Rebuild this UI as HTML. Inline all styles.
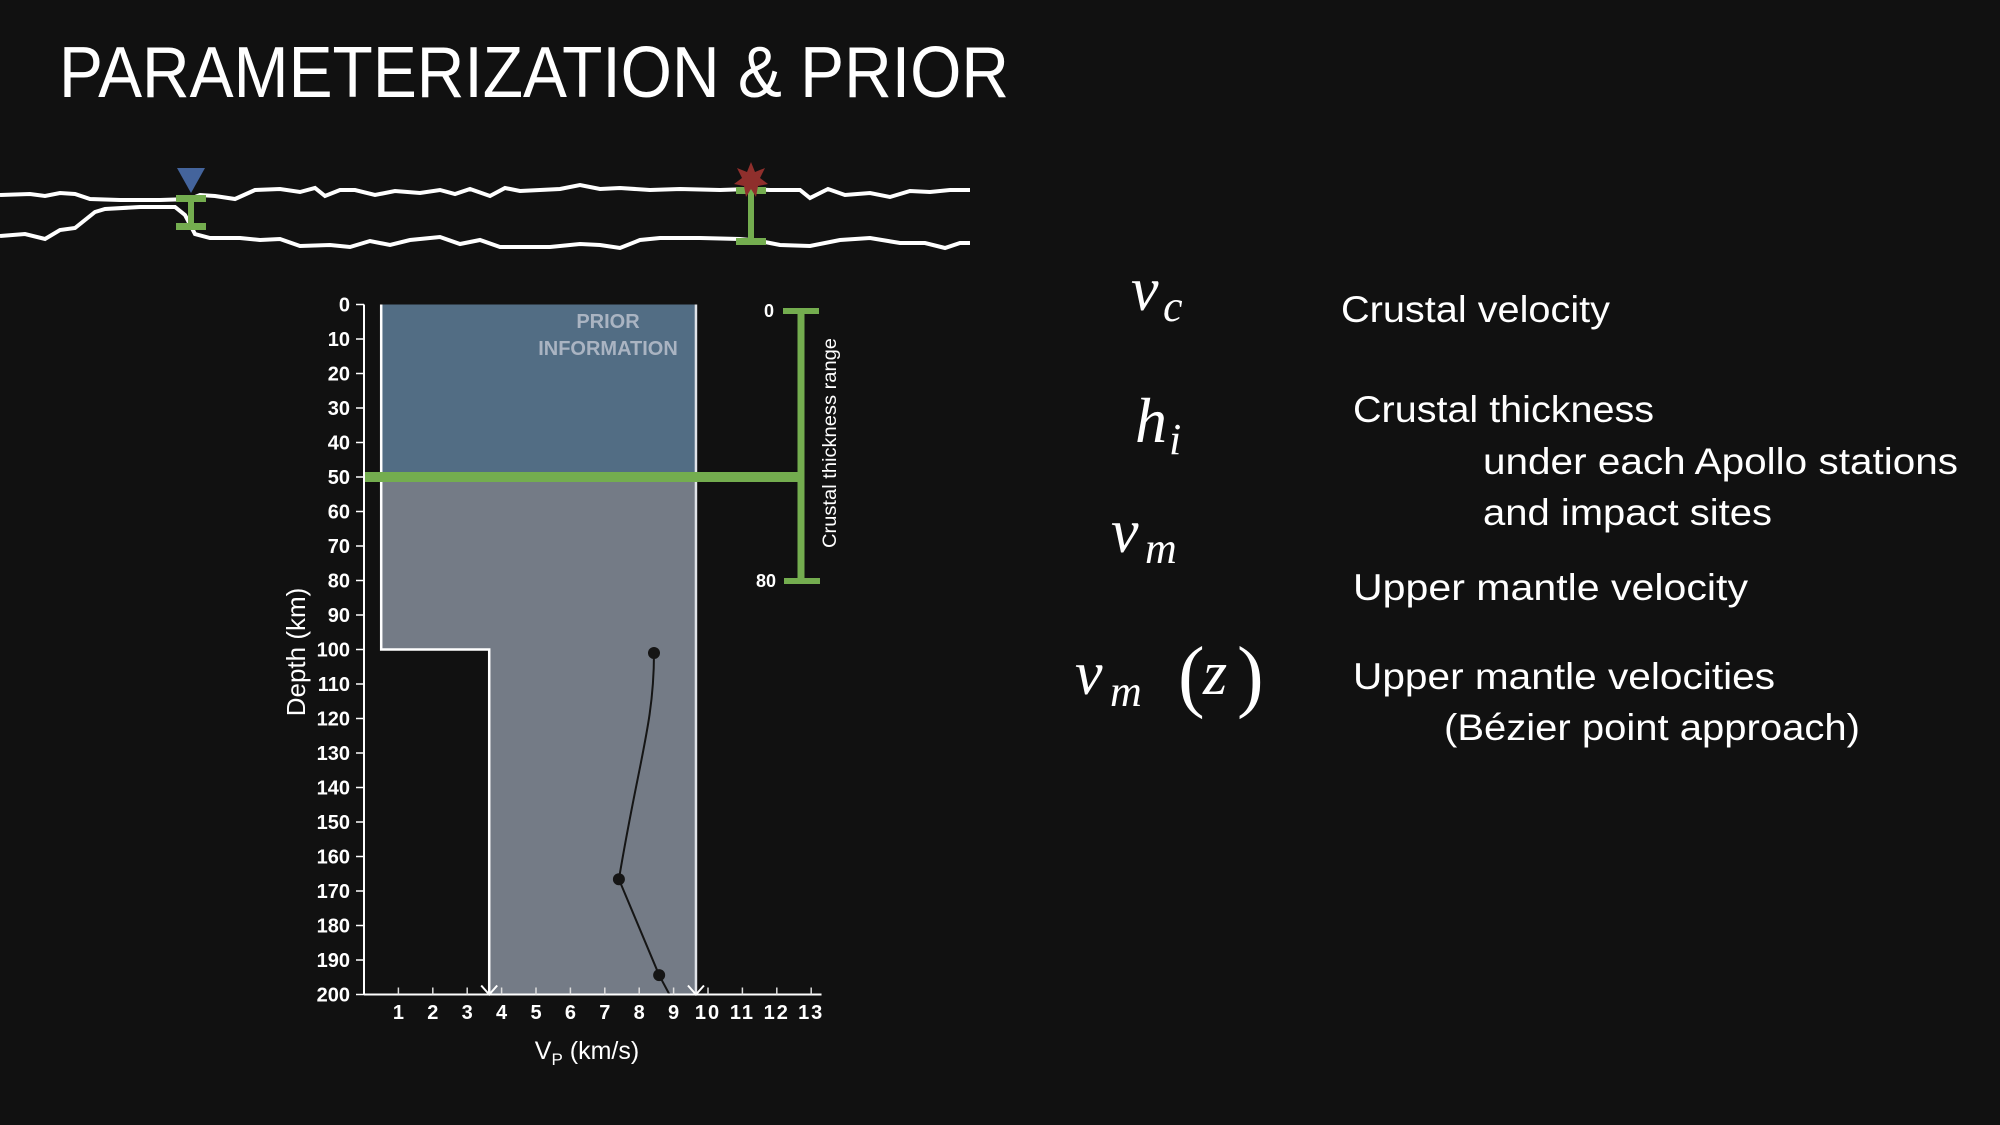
<!DOCTYPE html>
<html><head><meta charset="utf-8"><style>
html,body{margin:0;padding:0;background:#111111;}
svg{display:block;}
</style></head><body>
<svg id="s" width="2000" height="1125" viewBox="0 0 2000 1125" xmlns="http://www.w3.org/2000/svg">
<rect width="2000" height="1125" fill="#111111"/>
<text x="59" y="97" font-family="Liberation Sans, sans-serif" font-size="72" fill="#fff" textLength="950" lengthAdjust="spacingAndGlyphs">PARAMETERIZATION &amp; PRIOR</text>

<g>
<polyline fill="none" stroke="#fff" stroke-width="4" points="0,195 30,194 45,196 60,193 75,194 90,199 120,200 160,200 190,199 200,195 215,196 235,199 255,190 280,189 300,192 315,188 325,196 340,190 355,190 375,195 395,191 420,193 440,190 455,194 470,189 490,196 505,188 520,191 540,190 560,189 580,185 600,189 620,188 650,190 680,189 720,190 750,189 770,190 800,190 810,198 828,189 845,195 870,193 890,197 910,191 930,192 950,190 970,190"/>
<polyline fill="none" stroke="#fff" stroke-width="4" points="0,236 25,234 45,239 60,230 75,228 95,212 105,209 140,207 175,207 185,215 195,234 210,238 240,238 260,240 280,239 300,246 330,245 350,247 370,241 390,245 410,240 440,237 460,244 480,240 500,247 550,247 580,244 600,245 620,248 640,240 660,238 700,238 740,239 760,241 780,245 810,246 840,240 870,238 900,243 925,243 945,248 960,243 970,243"/>
<polygon points="177,168 205,168 191,193" fill="#44649c"/>
<g fill="#74ad4f">
<rect x="176" y="195" width="30" height="7"/><rect x="188" y="198" width="6" height="28"/><rect x="176" y="223" width="30" height="7"/>
</g>
<g fill="#74ad4f">
<rect x="736" y="187" width="30" height="7"/><rect x="748" y="190" width="6" height="51"/><rect x="736" y="238" width="30" height="7"/>
</g>
<polygon fill="#8f2f2c" points="751,162 755,172 765,168 760,178 768,184 758,186 756,197 751,189 746,197 744,186 734,184 742,178 737,168 747,172"/>
</g>

<g id="chart"></g>

<g fill="#fff">
<g font-family="Liberation Serif, serif" font-style="italic">
<text x="1131" y="310" font-size="62">v</text>
<text x="1163" y="321" font-size="44">c</text>
<text x="1135" y="442" font-size="64">h</text>
<text x="1169" y="454" font-size="44">i</text>
<text x="1111" y="552" font-size="62">v</text>
<text x="1145" y="563" font-size="44">m</text>
<text x="1075" y="694" font-size="62">v</text>
<text x="1110" y="706" font-size="44">m</text>
<text x="1178" y="702" font-size="80" font-style="normal">(</text>
<text x="1203" y="694" font-size="62">z</text>
<text x="1237" y="702" font-size="80" font-style="normal">)</text>
</g>
<g font-family="Liberation Sans, sans-serif" font-size="37">
<text x="1341" y="322" textLength="269" lengthAdjust="spacingAndGlyphs">Crustal velocity</text>
<text x="1353" y="422" textLength="301" lengthAdjust="spacingAndGlyphs">Crustal thickness</text>
<text x="1483" y="474" textLength="475" lengthAdjust="spacingAndGlyphs">under each Apollo stations</text>
<text x="1483" y="525" textLength="289" lengthAdjust="spacingAndGlyphs">and impact sites</text>
<text x="1353" y="600" textLength="395" lengthAdjust="spacingAndGlyphs">Upper mantle velocity</text>
<text x="1353" y="689" textLength="422" lengthAdjust="spacingAndGlyphs">Upper mantle velocities</text>
<text x="1444" y="740" textLength="416" lengthAdjust="spacingAndGlyphs">(Bézier point approach)</text>
</g>
</g>
</svg>
<script>
const depthTicks = [0,10,20,30,40,50,60,70,80,90,100,110,120,130,140,150,160,170,180,190,200];
const vpTicks = [1,2,3,4,5,6,7,8,9,10,11,12,13];
const priorVpMin = [0.5, 3.64];
const priorVpMax = 9.65;
const priorDepthBreak = 100;
const crustDepthMax = 50;
const crustThicknessRange = [0, 80];
const bezierVp = [8.43, 7.41, 8.58];
const bezierDepth = [101, 166.6, 194.4];
const curveEnd = [8.88, 200];

const NS = 'http://www.w3.org/2000/svg';
const g = document.getElementById('chart');
const X = v => 364 + 34.4 * v;
const Y = d => 304.5 + 3.45 * d;
function el(tag, attrs, text) {
  const e = document.createElementNS(NS, tag);
  for (const k in attrs) e.setAttribute(k, attrs[k]);
  if (text !== undefined) e.textContent = text;
  g.appendChild(e);
  return e;
}
let e;
e = el('rect', {x: X(priorVpMin[0]), y: Y(0), width: X(priorVpMax) - X(priorVpMin[0]), height: Y(crustDepthMax) - Y(0), fill: '#526d84'});


e = el('rect', {x: X(priorVpMin[0]), y: Y(crustDepthMax), width: X(priorVpMax) - X(priorVpMin[0]), height: Y(priorDepthBreak) - Y(crustDepthMax), fill: '#747b86'});


e = el('rect', {x: X(priorVpMin[1]), y: Y(priorDepthBreak), width: X(priorVpMax) - X(priorVpMin[1]), height: Y(200) - Y(priorDepthBreak), fill: '#747b86'});


e = el('polyline', {points: `${X(priorVpMin[0])},${Y(0)} ${X(priorVpMin[0])},${Y(priorDepthBreak)} ${X(priorVpMin[1])},${Y(priorDepthBreak)} ${X(priorVpMin[1])},${Y(200)}`, fill: 'none', stroke: '#fff', 'stroke-width': 2.5});


e = el('line', {x1: X(priorVpMax), y1: Y(0), x2: X(priorVpMax), y2: Y(200), stroke: '#e0e3e8', 'stroke-width': 2.5});


[X(priorVpMin[1]), X(priorVpMax)].forEach(x => {
  e = el('polyline', {points: `${x-8},${Y(200)-9} ${x},${Y(200)} ${x+8},${Y(200)-9}`, fill: 'none', stroke: '#fff', 'stroke-width': 2});
  
  
});
e = el('text', {x: 608, y: 328, 'text-anchor': 'middle', 'font-family': 'Liberation Sans, sans-serif', 'font-weight': 'bold', 'font-size': 20, fill: '#aab4c2'}, 'PRIOR');


e = el('text', {x: 608, y: 355, 'text-anchor': 'middle', 'font-family': 'Liberation Sans, sans-serif', 'font-weight': 'bold', 'font-size': 20, fill: '#aab4c2'}, 'INFORMATION');


const pts = bezierVp.map((v, i) => [X(v), Y(bezierDepth[i])]);
const endP = [X(curveEnd[0]), Y(curveEnd[1])];
const d = `M${pts[0][0]},${pts[0][1]} C${pts[0][0]},${pts[0][1]+70} ${pts[1][0]+20},${pts[1][1]-120} ${pts[1][0]},${pts[1][1]} L${pts[2][0]},${pts[2][1]} L${endP[0]},${endP[1]}`;
e = el('path', {d: d, fill: 'none', stroke: '#151515', 'stroke-width': 2});


pts.forEach(p => {
  e = el('circle', {cx: p[0], cy: p[1], r: 6, fill: '#151515'});
  
  
});
e = el('rect', {x: X(0), y: Y(crustDepthMax) - 5, width: 801 - X(0), height: 10, fill: '#74ad4f'});


e = el('rect', {x: 797.5, y: 311, width: 7, height: 270, fill: '#74ad4f'});


e = el('rect', {x: 783, y: 308, width: 36, height: 6, fill: '#74ad4f'});


e = el('rect', {x: 784, y: 578, width: 36, height: 6, fill: '#74ad4f'});


e = el('text', {x: 774, y: 317, 'text-anchor': 'end', 'font-family': 'Liberation Sans, sans-serif', 'font-weight': 'bold', 'font-size': 18, fill: '#fff'}, String(crustThicknessRange[0]));


e = el('text', {x: 776, y: 587, 'text-anchor': 'end', 'font-family': 'Liberation Sans, sans-serif', 'font-weight': 'bold', 'font-size': 18, fill: '#fff'}, String(crustThicknessRange[1]));


e = el('text', {x: 0, y: 0, transform: 'translate(836,443) rotate(-90)', 'text-anchor': 'middle', 'font-family': 'Liberation Sans, sans-serif', 'font-size': 19, fill: '#fff', textLength: 210, lengthAdjust: 'spacingAndGlyphs'}, 'Crustal thickness range');


e = el('line', {x1: X(0), y1: Y(0), x2: X(0), y2: Y(200), stroke: '#fff', 'stroke-width': 2});


e = el('line', {x1: X(0), y1: Y(200), x2: X(13.3), y2: Y(200), stroke: '#fff', 'stroke-width': 2});


depthTicks.forEach(t => {
  e = el('line', {x1: X(0) - 8, y1: Y(t), x2: X(0), y2: Y(t), stroke: '#fff', 'stroke-width': 1.5});
  
  
  e = el('text', {x: 350, y: Y(t) + 7, 'text-anchor': 'end', 'font-family': 'Liberation Sans, sans-serif', 'font-weight': 'bold', 'font-size': 20, fill: '#fff'}, String(t));
  
  
});
vpTicks.forEach(t => {
  e = el('line', {x1: X(t), y1: Y(200), x2: X(t), y2: Y(200) - 7, stroke: '#ddd', 'stroke-width': 1.5});
  
  
  e = el('text', {x: X(t), y: 1019, 'text-anchor': 'middle', 'font-family': 'Liberation Sans, sans-serif', 'font-weight': 'bold', 'font-size': 20, fill: '#fff', 'letter-spacing': t >= 10 ? 2 : 0}, String(t));
  
  
});
e = el('text', {x: 0, y: 0, transform: 'translate(305,652) rotate(-90)', 'text-anchor': 'middle', 'font-family': 'Liberation Sans, sans-serif', 'font-size': 26, fill: '#fff'}, 'Depth (km)');


e = el('text', {x: 587, y: 1059, 'text-anchor': 'middle', 'font-family': 'Liberation Sans, sans-serif', 'font-size': 25, fill: '#fff'}, '');


const t1 = document.createElementNS(NS, 'tspan'); t1.textContent = 'V';
const t2 = document.createElementNS(NS, 'tspan'); t2.textContent = 'P'; t2.setAttribute('font-size', '17'); t2.setAttribute('dy', '6');
const t3 = document.createElementNS(NS, 'tspan'); t3.textContent = ' (km/s)'; t3.setAttribute('dy', '-6');
e.appendChild(t1); e.appendChild(t2); e.appendChild(t3);
</script>
</body></html>
